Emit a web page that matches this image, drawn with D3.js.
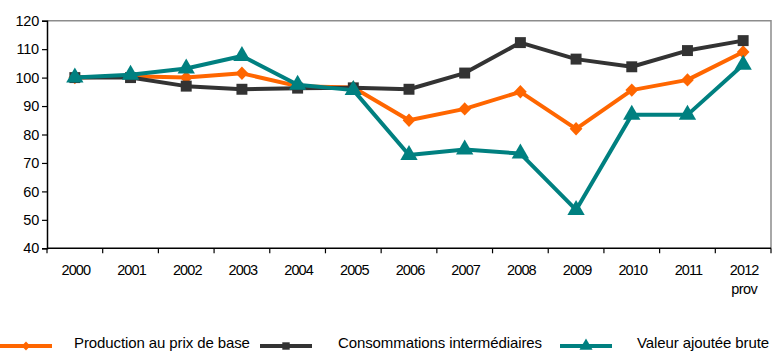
<!DOCTYPE html>
<html>
<head>
<meta charset="utf-8">
<script src="https://cdn.jsdelivr.net/npm/d3@7/dist/d3.min.js"></script>
<style>
  html, body { margin: 0; padding: 0; background: #fff; }
  svg { display: block; font-family: "Liberation Sans", Arial, sans-serif; }
</style>
</head>
<body>
<svg id="chart" width="784" height="351"></svg>
<script>
// Years on the category axis (the last one is provisional)
const years = ["2000","2001","2002","2003","2004","2005","2006","2007","2008","2009","2010","2011","2012"];
const yearSubLabels = {"2012": "prov"};

// Indices, base 100 in 2000
const production = [100, 100.5, 100, 101.5, 97, 96.5, 85, 89, 95, 82, 95.6, 99.2, 109];
const consommations = [100, 100, 97, 95.9, 96.3, 96.4, 95.9, 101.6, 112.3, 106.5, 103.8, 109.5, 113];
const valeurAjoutee = [100, 101, 103.2, 107.6, 97.5, 95.6, 72.8, 74.7, 73.3, 53.5, 86.9, 86.9, 104.5];

const yTicks = [40, 50, 60, 70, 80, 90, 100, 110, 120];

const series = [
  { name: "Production au prix de base", values: production, color: "#FF6600", marker: "diamond" },
  { name: "Consommations intermédiaires", values: consommations, color: "#333333", marker: "square" },
  { name: "Valeur ajoutée brute", values: valeurAjoutee, color: "#008080", marker: "triangle" }
];

const svg = d3.select("#chart");
const plot = { left: 47, right: 771, top: 20.7, bottom: 248.3 };

const x = d3.scaleBand().domain(years).range([plot.left, plot.right]);
const y = d3.scaleLinear().domain([40, 120]).range([plot.bottom, plot.top]);

// Plot frame: grey top and right edges
svg.append("path")
  .attr("d", `M${plot.left},${plot.top}H${plot.right}V${plot.bottom}`)
  .attr("fill", "none").attr("stroke", "#8c8c8c").attr("stroke-width", 1.5);

// Y axis
const yAxis = svg.append("g")
  .attr("transform", `translate(${plot.left},0)`)
  .call(d3.axisLeft(y).tickValues(yTicks).tickSize(5).tickPadding(3));
yAxis.select(".domain").attr("stroke", "#000").attr("stroke-width", 1.5);
yAxis.selectAll(".tick line").attr("stroke", "#000").attr("stroke-width", 1.2);
yAxis.selectAll(".tick text")
  .attr("font-size", 14.5).attr("fill", "#000")
  .attr("font-family", "Liberation Sans, Arial, sans-serif")
  .attr("letter-spacing", "-0.2px");

// X axis: ticks at category boundaries
const xAxisG = svg.append("g").attr("transform", `translate(0,${plot.bottom})`);
xAxisG.append("line")
  .attr("x1", plot.left).attr("x2", plot.right)
  .attr("stroke", "#000").attr("stroke-width", 1.5);
const boundaries = years.map(d => x(d)).concat([x(years[years.length - 1]) + x.bandwidth()]);
xAxisG.selectAll("line.tick").data(boundaries).join("line")
  .attr("class", "tick")
  .attr("x1", d => d).attr("x2", d => d)
  .attr("y1", 0).attr("y2", 5)
  .attr("stroke", "#000").attr("stroke-width", 1.2);
xAxisG.selectAll("text.year").data(years).join("text")
  .attr("class", "year")
  .attr("x", d => x(d) + x.bandwidth() / 2 + 1)
  .attr("y", 27)
  .attr("text-anchor", "middle")
  .attr("font-size", 14.5)
  .attr("letter-spacing", "-0.9px")
  .attr("fill", "#000")
  .text(d => d);
xAxisG.selectAll("text.sub").data(years.filter(d => yearSubLabels[d])).join("text")
  .attr("class", "sub")
  .attr("x", d => x(d) + x.bandwidth() / 2 + 1)
  .attr("y", 46)
  .attr("text-anchor", "middle")
  .attr("font-size", 14.5)
  .attr("letter-spacing", "-0.6px")
  .attr("fill", "#000")
  .text(d => yearSubLabels[d]);

// A near-square diamond (wider than d3.symbolDiamond)
const wideDiamond = {
  draw(context, size) {
    const h = Math.sqrt(size / 2);
    const w = h * 0.95;
    context.moveTo(0, -h);
    context.lineTo(w, 0);
    context.lineTo(0, h);
    context.lineTo(-w, 0);
    context.closePath();
  }
};

// Marker shapes
const markerPath = {
  diamond: d3.symbol().type(wideDiamond).size(90)(),
  square: d3.symbol().type(d3.symbolSquare).size(120)(),
  triangle: d3.symbol().type(d3.symbolTriangle).size(130)()
};

const line = d3.line()
  .x((d, i) => x(years[i]) + x.bandwidth() / 2)
  .y(d => y(d));

series.forEach(s => {
  const g = svg.append("g");
  g.append("path")
    .attr("d", line(s.values))
    .attr("fill", "none")
    .attr("stroke", s.color)
    .attr("stroke-width", 4)
    .attr("stroke-linejoin", "round");
  g.selectAll("path.marker").data(s.values).join("path")
    .attr("class", "marker")
    .attr("d", markerPath[s.marker])
    .attr("transform", (d, i) => `translate(${x(years[i]) + x.bandwidth() / 2},${y(d)})`)
    .attr("fill", s.color);
});

// Legend along the bottom edge
const legendItems = [
  { lineX: 0, textX: 74 },
  { lineX: 260, textX: 338 },
  { lineX: 560, textX: 637 }
];
const legendY = 346;
const legendMarker = {
  diamond: d3.symbol().type(wideDiamond).size(40)(),
  square: d3.symbol().type(d3.symbolSquare).size(55)(),
  triangle: d3.symbol().type(d3.symbolTriangle).size(75)()
};
const legend = svg.append("g");
series.forEach((s, i) => {
  const p = legendItems[i];
  legend.append("line")
    .attr("x1", p.lineX).attr("x2", p.lineX + 52)
    .attr("y1", legendY).attr("y2", legendY)
    .attr("stroke", s.color).attr("stroke-width", 4);
  legend.append("path")
    .attr("d", legendMarker[s.marker])
    .attr("transform", `translate(${p.lineX + 26},${legendY})`)
    .attr("fill", s.color);
  legend.append("text")
    .attr("x", p.textX).attr("y", legendY + 2)
    .attr("font-size", 15)
    .attr("letter-spacing", "-0.1px")
    .attr("fill", "#000")
    .text(s.name);
});
</script>
</body>
</html>
